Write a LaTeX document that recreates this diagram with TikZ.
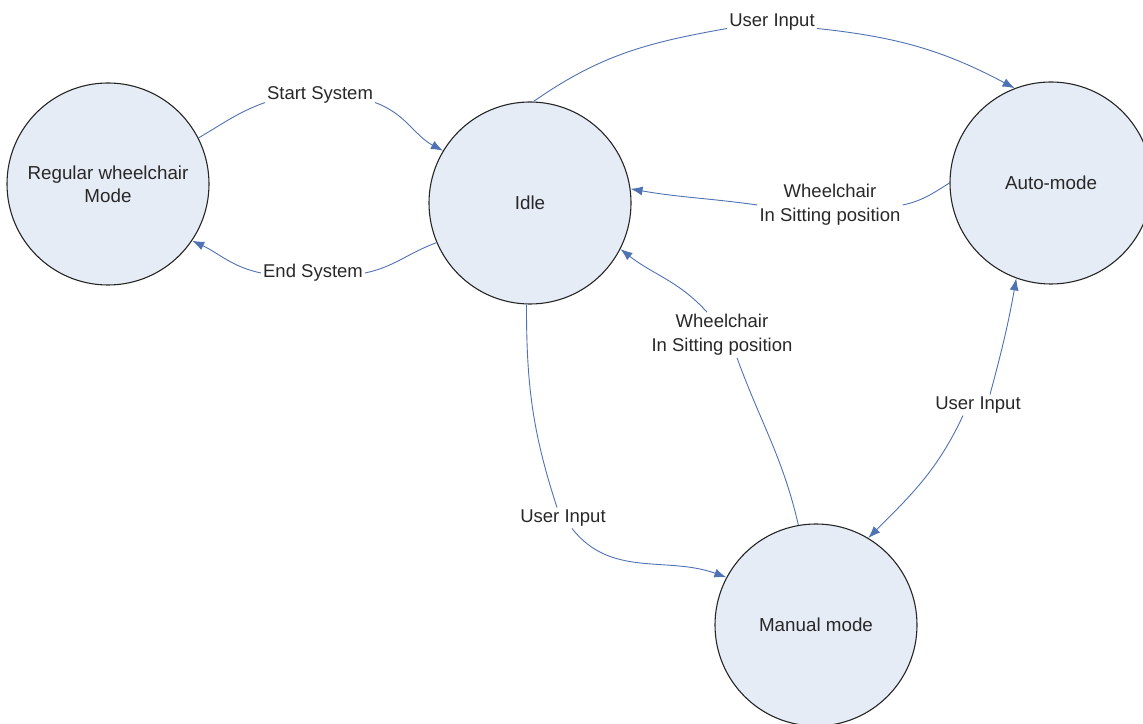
\documentclass[tikz,border=0pt]{standalone}
\usepackage{fontspec}
\setmainfont{Liberation Sans}
\usetikzlibrary{arrows.meta}
\definecolor{statefill}{RGB}{230,236,246}
\definecolor{edgeblue}{RGB}{79,114,179}
\definecolor{txt}{RGB}{40,40,40}
\tikzset{
  state/.style={circle, draw=black!85, line width=1.1pt, fill=statefill, minimum size=202pt, inner sep=0pt, align=center, text=txt, font=\fontsize{18.8}{23}\selectfont},
  elabel/.style={inner sep=2pt, align=center, text=txt, font=\fontsize{18.5}{24}\selectfont},
  edge/.style={draw=edgeblue, line width=0.9pt},
  arr/.style={edge, -{Latex[length=12pt,width=9pt]}}
}
\begin{document}
\begin{tikzpicture}[x=1pt,y=1pt]
\useasboundingbox (0,0) rectangle (1143,723);
\node[state] (nreg) at (108,539) {Regular wheelchair\\Mode};
\node[state] (nidle) at (530,520) {Idle};
\node[state] (nauto) at (1051,540) {Auto-mode};
\node[state] (nman) at (816,98) {Manual mode};

\node[elabel] (lstart) at (320,628) {Start System};
\node[elabel] (lend) at (313,450) {End System};
\node[elabel] (ltop) at (772,701) {User Input};
\node[elabel] (lauto) at (830,518) {Wheelchair\\In Sitting position};
\node[elabel] (lman) at (722,388) {Wheelchair\\In Sitting position};
\node[elabel] (lidleman) at (563,205) {User Input};
\node[elabel] (lam) at (978,318) {User Input};

% Start System
\draw[edge] (nreg.27) to[out=30,in=200] ([yshift=3pt]lstart.south west);
\draw[arr] ([yshift=3pt]lstart.south east) to[out=-20,in=152] (nidle.149);
% End System
\draw[edge] (nidle.203) to[out=200,in=12] (lend.east);
\draw[arr] (lend.west) to[out=168,in=-25] (nreg.-34);
% User Input top
\draw[edge] (nidle.88) to[out=35,in=190] ([yshift=4pt]ltop.south west);
\draw[arr] ([yshift=4pt]ltop.south east) to[out=-6,in=152] (nauto.111);
% Auto -> Idle
\draw[edge] (nauto.180) to[out=212,in=12] (lauto.east);
\draw[arr] (lauto.west) to[out=172,in=-10] (nidle.8);
% Manual -> Idle
\draw[edge] (nman.100) to[out=103,in=-70] ([xshift=15pt]lman.south);
\draw[arr] ([xshift=-15pt]lman.north) to[out=132,in=-38] (nidle.-27);
% Idle -> Manual
\draw[edge] (nidle.-92) to[out=-90,in=108] ([xshift=-6pt]lidleman.north);
\draw[arr] ([xshift=9pt]lidleman.south) to[out=-52,in=160] (nman.152);
% Auto <-> Manual
\draw[arr] ([xshift=12pt]lam.north) to[out=75,in=-100] (nauto.-110);
\draw[arr] ([xshift=-15pt]lam.south) to[out=-115,in=45] (nman.59);
\end{tikzpicture}
\end{document}
